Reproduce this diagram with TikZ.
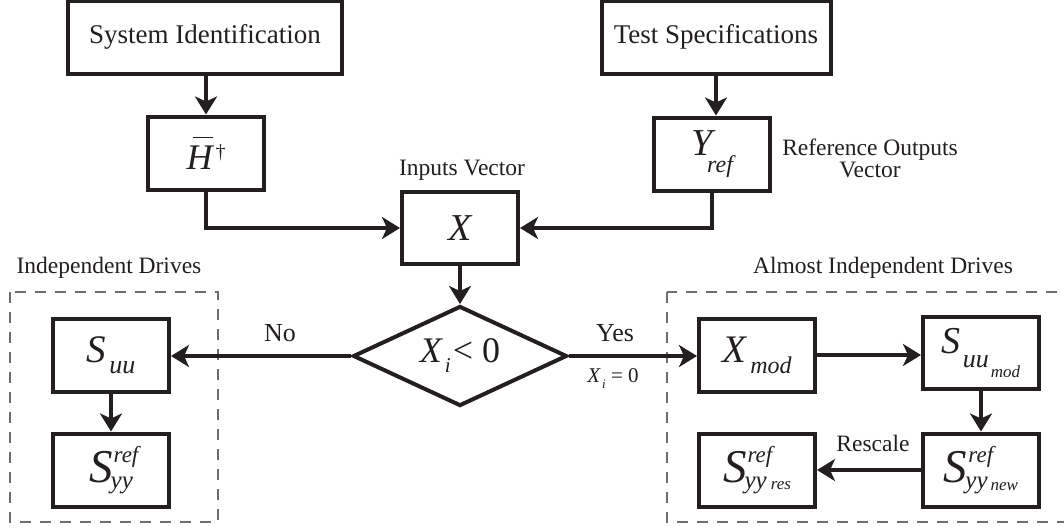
\RequirePackage{fix-cm}
\documentclass[tikz,border=0pt]{standalone}
\usepackage{fontspec}
\setmainfont{Liberation Serif}
\usetikzlibrary{arrows.meta,shapes.geometric}

\definecolor{ink}{HTML}{231F20}
\definecolor{groupline}{HTML}{6D6E71}

% font size helpers
\newcommand\fsz[1]{\fontsize{#1}{#1}\selectfont}
\newcommand\headsz{\fontsize{27}{32}\selectfont}
\newcommand\notesz{\fontsize{23.5}{25}\selectfont}
\newcommand\branchsz{\fontsize{26}{30}\selectfont}
% italic symbol pieces: size + text, lowered or raised pieces
\newcommand\ibig[2]{{\fsz{#1}\itshape #2}}
\newcommand\ilo[3]{\raisebox{-#1pt}{\fsz{#2}\itshape #3}}
\newcommand\ihi[3]{\raisebox{#1pt}{\fsz{#2}\itshape #3}}
% S with superscript "ref" and subscript yy (plus an optional lower tag)
\newcommand\Sref[1]{\ibig{47}{S}\rlap{\kern1pt\ihi{20}{23}{ref}}\kern-2pt\ilo{6}{25}{yy}#1}

\tikzset{
  blk/.style={draw=ink, line width=4pt, fill=white, inner sep=0pt,
    minimum width=116pt, minimum height=73pt, text=ink},
  headblk/.style={blk, minimum height=73pt, font=\headsz},
  decision/.style={diamond, aspect=2.14, draw=ink, line width=4pt, fill=white,
    inner sep=0pt, minimum width=214pt, minimum height=100pt, text=ink},
  arr/.style={draw=ink, line width=3.2pt,
    -{Stealth[length=18pt, width=22pt, inset=5pt]}},
  group/.style={draw=groupline, line width=1.6pt, dash pattern=on 11pt off 9pt},
  note/.style={text=ink, font=\notesz, inner sep=0pt, align=center},
  branch/.style={text=ink, font=\branchsz, inner sep=0pt},
}

\begin{document}
\begin{tikzpicture}[x=1pt, y=-1pt]
  \useasboundingbox[fill=white] (0,0) rectangle (1064,531);

  % dashed groups
  \draw[group] (10,292) rectangle (218,522);
  \draw[group] (667,292) rectangle (1072,522);
  \node[note] (indep) at (109,268) {Independent Drives};
  \node[note] (almost) at (883,268) {Almost Independent Drives};

  % top row
  \node[headblk, minimum width=274pt] (sysid) at (205,37) {System Identification};
  \node[headblk, minimum width=229pt] (spec) at (716,37) {Test Specifications};

  \node[blk] (hinv) at (206,153)
    {\rlap{\kern6pt\rule[31pt]{20pt}{1.8pt}}\ibig{36}{H}\kern3pt\raisebox{11pt}{\fsz{20}\textdagger}};
  \node[blk] (yref) at (712,154) {\ibig{38}{Y}\kern-5pt\ilo{17}{24}{ref}};
  \node[note] (yreflbl) at (870,158) {Reference Outputs\\[-3pt]Vector};

  \node[blk, minimum height=72pt] (xvec) at (460,228) {\ibig{38}{X}};
  \node[note] (xlbl) at (462,170) {Inputs Vector};

  % decision
  \node[decision] (test) at (460,356)
    {\ibig{36}{X}\kern3pt\ilo{10}{21}{i}\kern2pt{\fsz{36}< 0}};

  % left branch
  \node[blk] (suu) at (111,355) {\ibig{39}{S}\kern3pt\ilo{11}{26}{uu}};
  \node[blk] (syy) at (111,470) {\Sref{}};

  % right branch
  \node[blk] (xmod) at (757,355) {\ibig{39}{X}\kern4pt\ilo{11}{24}{mod}};
  \node[blk, minimum height=72pt] (suumod) at (981,353)
    {\ibig{38}{S}\kern2pt\ilo{14}{26}{uu}\kern2pt\ilo{24}{17}{mod}};
  \node[blk] (syynew) at (981,470) {\Sref{\kern3pt\ilo{8}{17}{new}}};
  \node[blk] (syyres) at (757,470) {\Sref{\kern4pt\ilo{7}{17}{res}}};

  % connectors
  \draw[arr] (sysid.south -| hinv) -- (hinv.north);
  \draw[arr] (spec.south) -- (spec.south |- yref.north);
  \draw[arr] (hinv.south) |- (xvec.west);
  \draw[arr] (yref.south) |- (xvec.east);
  \draw[arr] (xvec.south) -- (test.north);
  \draw[arr] (test.west) -- (test.west -| suu.east);
  \draw[arr] (test.east) -- (test.east -| xmod.west);
  \draw[arr] (suu.south) -- (syy.north);
  \draw[arr] (xmod.east) -- (xmod.east -| suumod.west);
  \draw[arr] (suumod.south) -- (syynew.north);
  \draw[arr] (syynew.west) -- (syyres.east);

  % branch labels
  \node[branch] (nolbl) at (280,333) {No};
  \node[branch] (yeslbl) at (615,333) {Yes};
  \node[text=ink, inner sep=0pt] (zerolbl) at (613,379)
    {\ibig{21}{X}\kern2pt\ilo{6}{13}{i}{\fsz{21} = 0}};
  \node[note] (rescale) at (873,443) {Rescale};
\end{tikzpicture}
\end{document}
